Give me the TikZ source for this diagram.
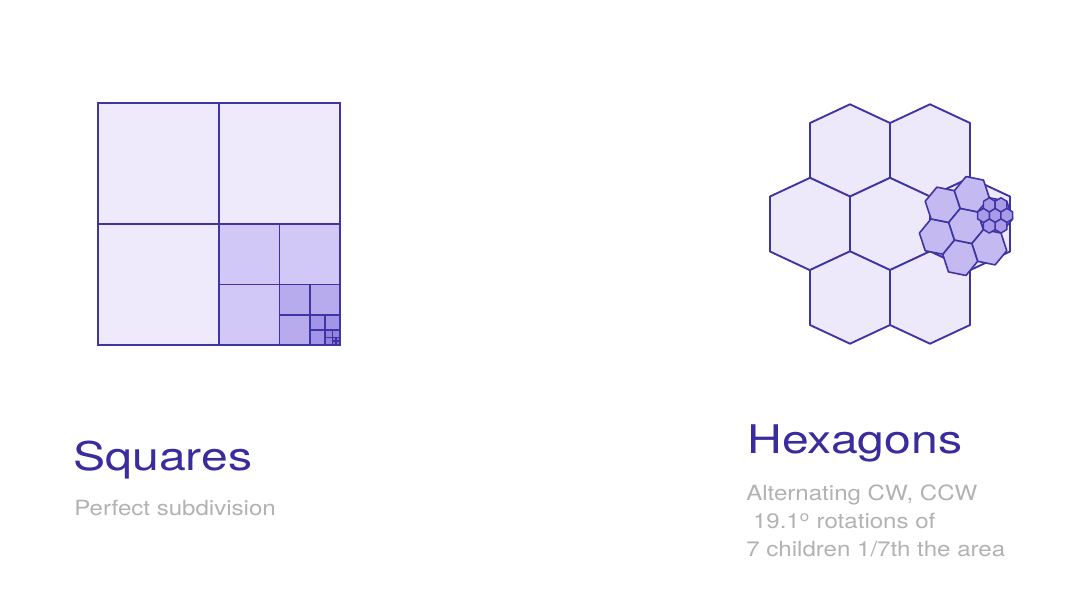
\documentclass[tikz,border=0pt]{standalone}
\usepackage{fontspec}
\setmainfont{TeX Gyre Heros}

\definecolor{titleblue}{HTML}{3A2C9E}
\definecolor{notegray}{HTML}{B2B2B2}
\definecolor{edgeblue}{HTML}{3E34A4}
\definecolor{sqA}{HTML}{EFE9FC}
\definecolor{sqB}{HTML}{D1C8F7}
\definecolor{sqC}{HTML}{B7ABEE}
\definecolor{sqD}{HTML}{A294E6}
\definecolor{sqE}{HTML}{9183DE}
\definecolor{sqF}{HTML}{8172D8}
\definecolor{hexA}{HTML}{EEE8FB}
\definecolor{hexB}{HTML}{C4B9F1}
\definecolor{hexC}{HTML}{A99BE8}

\begin{document}
\begin{tikzpicture}
    [x=0.75pt,y=-0.75pt,
     every node/.style={inner sep=0pt,anchor=base west},
     title/.style={text=titleblue,font=\fontsize{29.6}{34}\selectfont,xscale=1.22},
     note/.style={text=notegray,font=\fontsize{15.7}{19}\selectfont,xscale=1.15},
     sq/.style={draw=edgeblue,line width=1.15pt},
     hexcell/.style={draw=edgeblue,line width=1.4pt,fill=hexA,line join=round},
     child/.style={draw=edgeblue,line width=1.2pt,fill=hexB,line join=round},
     grand/.style={draw=edgeblue,line width=1.1pt,fill=hexC,line join=round}]

    \useasboundingbox (0,0) rectangle (1088,600);
    \fill[white] (0,0) rectangle (1088,600);

    % squares: every level splits the lower right quarter again
    \foreach \x/\y/\s/\c in {98/103/121/sqA, 219/224/60.5/sqB, 279.5/284.5/30.25/sqC,
                             309.75/314.75/15.125/sqD, 324.875/329.875/7.5625/sqE,
                             332.4375/337.4375/3.78125/sqF}
    {
      \filldraw[sq,fill=\c] (\x,\y) rectangle +(\s,\s);
      \filldraw[sq,fill=\c] (\x+\s,\y) rectangle +(\s,\s);
      \filldraw[sq,fill=\c] (\x,\y+\s) rectangle +(\s,\s);
      \filldraw[sq,fill=\c] (\x+\s,\y+\s) rectangle +(\s,\s);
    }
    \draw[sq] (98,103) rectangle (340,345);

    % seven parent hexagons
    \foreach \cx/\cy in {850/150.5, 930/150.5, 810/224, 890/224, 970/224, 850/297.5, 930/297.5}
      \filldraw[hexcell] (\cx,\cy-46.2) -- ++(40,18.7) -- ++(0,55) -- ++(-40,18.7)
        -- ++(-40,-18.7) -- ++(0,-55) -- cycle;

    % children of the right hexagon, turned 19.1 degrees
    \begin{scope}[shift={(966,226)},yscale=1.05,rotate=19.1]
      \foreach \p in {(0,0), (0:30.83), (60:30.83), (120:30.83), (180:30.83), (240:30.83), (300:30.83)}
        \filldraw[child] \p +(30:17.8) -- +(90:17.8) -- +(150:17.8) -- +(210:17.8)
          -- +(270:17.8) -- +(330:17.8) -- cycle;

      % grandchildren, turned back the other way
      \begin{scope}[shift={(30.83,0)},rotate=-19.1]
        \foreach \p in {(0,0), (0:11.65), (60:11.65), (120:11.65), (180:11.65), (240:11.65), (300:11.65)}
          \filldraw[grand] \p +(30:6.73) -- +(90:6.73) -- +(150:6.73) -- +(210:6.73)
            -- +(270:6.73) -- +(330:6.73) -- cycle;
      \end{scope}
    \end{scope}

    \node[title] (squaresTitle) at (73,470) {Squares};
    \node[note] (squaresNote) at (74,515) {Perfect subdivision};

    \node[title] (hexTitle) at (747,453) {Hexagons};
    \node[note] (hexNoteA) at (746,500) {Alternating CW, CCW};
    \node[note] (hexNoteB) at (746,528.3) {\ 19.1\textsuperscript{o} rotations of};
    \node[note] (hexNoteC) at (746,556.7) {7 children 1/7th the area};
\end{tikzpicture}
\end{document}
